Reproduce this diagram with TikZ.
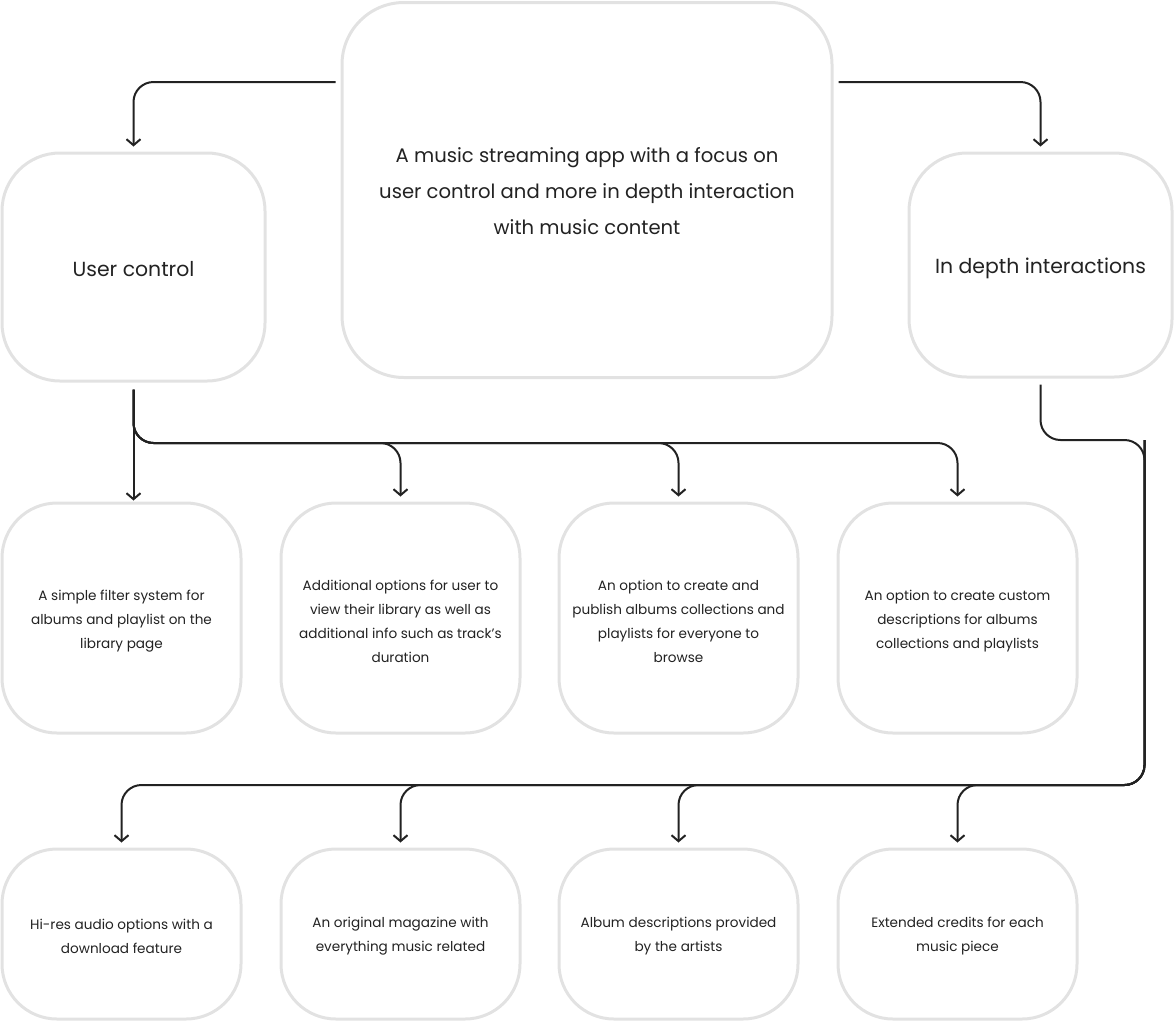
\documentclass[tikz,border=0pt]{standalone}
\usepackage{fontspec}
\setmainfont{Poppins}
\usetikzlibrary{arrows.meta}
\definecolor{boxgray}{HTML}{E2E2E2}
\definecolor{ink}{HTML}{222222}
\begin{document}
\begin{tikzpicture}[x=1pt,y=-1pt,
  box/.style={draw=boxgray, line width=3pt, rectangle, inner sep=0pt},
  bigtxt/.style={align=center, text=ink, inner sep=0pt, font=\fontsize{19.6}{36}\selectfont},
  titletxt/.style={align=center, text=ink, inner sep=0pt, font=\fontsize{20.4}{36}\selectfont},
  smalltxt/.style={align=center, text=ink, inner sep=0pt, font=\fontsize{13.6}{24}\selectfont},
  bigbox/.style={box, rounded corners=62pt},
  titlebox/.style={box, rounded corners=58pt, minimum width=263pt},
  smallbox/.style={box, rounded corners=55pt, minimum width=239pt},
  conn/.style={draw=ink, line width=2pt, rounded corners=20pt},
  tip/.style={-{Straight Barb[length=6pt,width=14pt,line width=2pt]}}
]
\useasboundingbox (0,0) rectangle (1174,1021);

\node[bigbox, minimum width=490pt, minimum height=375pt,
  label={[bigtxt, yshift=-1pt]center:{A music streaming app with a focus on\\user control and more in depth interaction\\with music content}}] (c) at (587,190) {};
\node[titlebox, minimum height=228pt,
  label={[titletxt, yshift=-2pt]center:{User control}}] (uc) at (133.5,267) {};
\node[titlebox, minimum height=224pt,
  label={[titletxt, yshift=-3.5pt]center:{In depth interactions}}] (idi) at (1040.5,265) {};

\node[smallbox, minimum height=230pt,
  label={[smalltxt, yshift=-3.5pt]center:{A simple filter system for\\albums and playlist on the\\library page}}] (r2a) at (121.5,618) {};
\node[smallbox, minimum height=230pt,
  label={[smalltxt, yshift=-3.5pt]center:{Additional options for user to\\view their library as well as\\additional info such as track’s\\duration}}] (r2b) at (400.5,618) {};
\node[smallbox, minimum height=230pt,
  label={[smalltxt, yshift=-3.5pt]center:{An option to create and\\publish albums collections and\\playlists for everyone to\\browse}}] (r2c) at (678.5,618) {};
\node[smallbox, minimum height=230pt,
  label={[smalltxt, yshift=-3.5pt]center:{An option to create custom\\descriptions for albums\\collections and playlists}}] (r2d) at (957.5,618) {};

\node[smallbox, minimum height=170pt,
  label={[smalltxt, yshift=-2.5pt]center:{Hi-res audio options with a\\download feature}}] (r3a) at (121.5,934) {};
\node[smallbox, minimum height=170pt,
  label={[smalltxt, yshift=-2.5pt]center:{An original magazine with\\everything music related}}] (r3b) at (400.5,934) {};
\node[smallbox, minimum height=170pt,
  label={[smalltxt, yshift=-2.5pt]center:{Album descriptions provided\\by the artists}}] (r3c) at (678.5,934) {};
\node[smallbox, minimum height=170pt,
  label={[smalltxt, yshift=-2.5pt]center:{Extended credits for each\\music piece}}] (r3d) at (957.5,934) {};

\coordinate (hb) at (0,443);
\coordinate (h1) at (1144.5,440);
\coordinate (h2) at (1144.5,785);

% top connectors
\draw[conn, tip] ([xshift=-5pt,yshift=108pt]c.west) -| ([yshift=5pt]uc.north);
\draw[conn, tip] ([xshift=5pt,yshift=108pt]c.east) -| ([yshift=5pt]idi.north);

% user control branches
\draw[conn, tip] ([yshift=-7pt]uc.south) -- ([yshift=1pt]uc.south |- r2a.north);
\draw[conn, tip] ([yshift=-7pt]uc.south) |- (hb -| r2b.north) -- ([yshift=5pt]r2b.north);
\draw[conn, tip] ([yshift=-7pt]uc.south) |- (hb -| r2c.north) -- ([yshift=5pt]r2c.north);
\draw[conn, tip] ([yshift=-7pt]uc.south) |- (hb -| r2d.north) -- ([yshift=5pt]r2d.north);

% in depth branches
\draw[conn, tip] ([yshift=-6pt]idi.south) |- (h1) |- (h2 -| r3a.north) -- ([yshift=5pt]r3a.north);
\draw[conn, tip] (h1) |- (h2 -| r3b.north) -- ([yshift=5pt]r3b.north);
\draw[conn, tip] (h1) |- (h2 -| r3c.north) -- ([yshift=5pt]r3c.north);
\draw[conn, tip] (h1) |- (h2 -| r3d.north) -- ([yshift=5pt]r3d.north);
\end{tikzpicture}
\end{document}
